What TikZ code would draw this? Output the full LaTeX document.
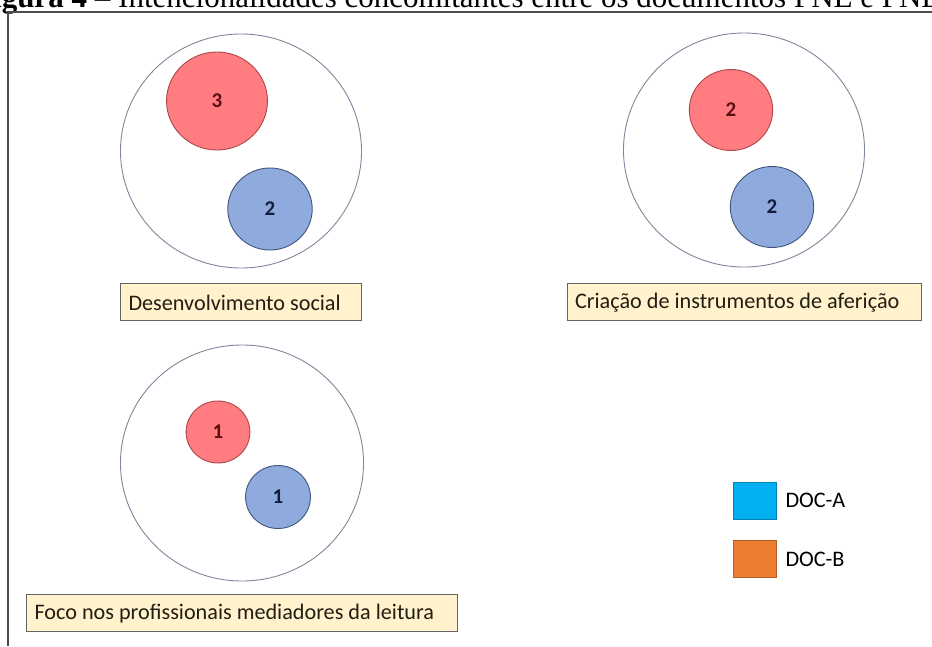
\documentclass[tikz,border=0pt]{standalone}
\usepackage{fontspec}
\setmainfont{Carlito}
\newfontfamily\titlefont{Liberation Serif}
\usepackage{tikz}
\usetikzlibrary{positioning,shapes.geometric}

\definecolor{ringline}{RGB}{125,135,155}
\definecolor{redfill}{RGB}{255,124,128}
\definecolor{redline}{RGB}{175,70,75}
\definecolor{redtext}{RGB}{95,15,20}
\definecolor{bluefill}{RGB}{143,170,220}
\definecolor{blueline}{RGB}{65,85,125}
\definecolor{bluetext}{RGB}{20,30,60}
\definecolor{tagfill}{RGB}{255,242,204}
\definecolor{tagline}{RGB}{100,100,100}
\definecolor{tagtext}{RGB}{35,30,20}
\definecolor{docA}{RGB}{0,176,240}
\definecolor{docB}{RGB}{237,125,49}

\begin{document}
\begin{tikzpicture}[x = 1pt, y = -1pt, node distance = 15pt,
    ring/.style = {ellipse, draw = ringline, line width = 0.9pt, inner sep = 0pt,
                   minimum width = {1.03*#1}, minimum height = #1},
    ballA/.style = {ring = #1, fill = bluefill, draw = blueline, text = bluetext,
                    font = \fontsize{21}{25}\selectfont\bfseries},
    ballB/.style = {ring = #1, fill = redfill, draw = redline, text = redtext,
                    font = \fontsize{21}{25}\selectfont\bfseries},
    tag/.style = {draw = tagline, fill = tagfill, line width = 1pt, inner xsep = 8pt,
                  minimum height = 37pt, align = flush left, text = tagtext,
                  font = \fontsize{22.2}{26}\selectfont},
    key/.style = {draw = #1!75!black, fill = #1, line width = 0.6pt, inner sep = 0pt,
                  minimum width = 43pt, minimum height = 37pt},
    keytext/.style = {inner sep = 0pt, font = \fontsize{22.2}{26}\selectfont},
    frame/.style = {draw = black!70, line width = 1.3pt}]

  \useasboundingbox (0, 0) rectangle (932, 646);
  \clip (0, 0) rectangle (932, 646);

  \node[anchor = base west, inner sep = 0pt, font = \titlefont\fontsize{31}{36}\selectfont]
    (title) at (-26, 7) {\textbf{Figura 4 –} Intencionalidades concomitantes entre os documentos PNE e PNLL};
  \draw[frame] (8, 646) -- (8, 12) -- (932, 12);

  \node[ring = 234] (soc) at (241, 151) {};
  \node[ballB = 98] (socB) at (217, 101) {3};
  \node[ballA = 82] (socA) at (270, 209) {2};
  \node[tag, text width = 225pt, below = of soc] (socTag) {Desenvolvimento social};

  \node[ring = 234] (afe) at (744, 150) {};
  \node[ballB = 81] (afeB) at (731, 110) {2};
  \node[ballA = 81] (afeA) at (772, 207) {2};
  \node[tag, text width = 338pt, below = 16pt of afe] (afeTag) {Criação de instrumentos de aferição};

  \node[ring = 236] (med) at (242, 463) {};
  \node[ballB = 62] (medB) at (218, 432) {1};
  \node[ballA = 63] (medA) at (278, 497) {1};
  \node[tag, text width = 415pt, below = 13pt of med] (medTag) {Foco nos profissionais mediadores da leitura};

  \node[key = docA] (keyA) at (754.5, 500.5) {};
  \node[key = docB, below = 21pt of keyA] (keyB) {};
  \node[keytext, right = 9pt of keyA] (keyAtxt) {DOC-A};
  \node[keytext, right = 9pt of keyB] (keyBtxt) {DOC-B};
\end{tikzpicture}
\end{document}
